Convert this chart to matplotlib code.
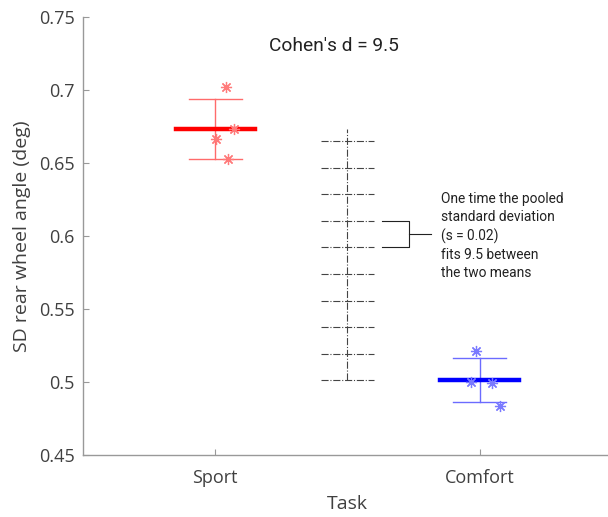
import matplotlib
matplotlib.use('Agg')
import matplotlib.pyplot as plt
import numpy as np

plt.rcParams['font.family'] = ['Open Sans', 'DejaVu Sans']

# ------------------------------------------------------------------
#  Data
# ------------------------------------------------------------------
tasks = ['Sport', 'Comfort']
task_pos = [1, 2]

means = [0.6733, 0.5012]
sds = [0.0208, 0.0152]

sport_x = [1.040, 1.070, 1.004, 1.049]
sport_y = [0.7018, 0.6733, 0.6662, 0.6527]
comfort_x = [1.987, 1.966, 2.046, 2.076]
comfort_y = [0.5210, 0.5002, 0.4991, 0.4838]

pooled_sd = 0.0182
cohens_d = 9.5
ladder_x = 1.5

yticks = [0.45, 0.5, 0.55, 0.6, 0.65, 0.7, 0.75]
ytick_labels = ['0.45', '0.5', '0.55', '0.6', '0.65', '0.7', '0.75']

MEAN_COLORS = ['#ff0000', '#0000ff']
LIGHT_COLORS = ['#ff6b6b', '#6b6bff']
MARKER_COLORS = ['#ff7a7a', '#7a7aff']
ASTERISK = (8, 2, 0)  # matlab-style '*'

# ------------------------------------------------------------------
#  Figure
# ------------------------------------------------------------------
fig = plt.figure(figsize=(6.08, 5.17), dpi=100)
ax = fig.add_axes([0.1365, 0.1199, 0.870, 0.8472])

for i, (x, m, s) in enumerate(zip(task_pos, means, sds)):
    ax.plot([x, x], [m - s, m + s], color=LIGHT_COLORS[i], lw=1.0, zorder=2)
    for yy in (m - s, m + s):
        ax.plot([x - 0.1, x + 0.1], [yy, yy], color=LIGHT_COLORS[i],
                lw=1.0, zorder=2)
    ax.plot([x - 0.15, x + 0.15], [m, m], color=MEAN_COLORS[i], lw=3.2,
            zorder=3)

ax.plot(sport_x, sport_y, ls='none', marker=ASTERISK, ms=8, mew=0.9,
        color=MARKER_COLORS[0], zorder=4)
ax.plot(comfort_x, comfort_y, ls='none', marker=ASTERISK, ms=8, mew=0.9,
        color=MARKER_COLORS[1], zorder=4)

# ladder of pooled standard deviations between the two means
steps = [means[1] + k * pooled_sd for k in range(int(cohens_d) + 1)]
ax.plot([ladder_x, ladder_x], [means[1], means[0]], color='#444444',
        lw=0.8, ls='-.', zorder=1)
for yy in steps:
    ax.plot([ladder_x - 0.1, ladder_x + 0.1], [yy, yy], color='#444444',
            lw=0.8, ls='-.', zorder=1)

# bracket around one step
y_lo, y_hi = steps[5], steps[6]
ax.plot([1.631, 1.731, 1.731, 1.631], [y_hi, y_hi, y_lo, y_lo],
        color='#222222', lw=0.8)
ax.plot([1.731, 1.815], [(y_lo + y_hi) / 2] * 2, color='#222222', lw=0.8)
ax.text(1.855, (y_lo + y_hi) / 2 - 0.0012,
        'One time the pooled\nstandard deviation\n(s = 0.02)\n'
        'fits 9.5 between\nthe two means',
        fontsize=9.9, va='center', ha='left', color='#222222',
        linespacing=1.38, family=['Roboto', 'DejaVu Sans'])

ax.text(1.448, 0.7303, "Cohen's d = 9.5", fontsize=13.8, ha='center',
        va='center', color='#222222', family=['Roboto', 'DejaVu Sans'])

ax.set_xlim(0.5, 2.5)
ax.set_ylim(0.45, 0.75)
ax.set_xticks(task_pos)
ax.set_xticklabels(tasks)
ax.set_yticks(yticks)
ax.set_yticklabels(ytick_labels)
ax.tick_params(direction='in', length=4, width=0.8, colors='#999999',
               labelcolor='#404040', labelsize=13, pad=6)
ax.tick_params(axis='x', pad=10)
for side in ('top', 'right'):
    ax.spines[side].set_visible(False)
for side in ('left', 'bottom'):
    ax.spines[side].set_color('#999999')
    ax.spines[side].set_linewidth(1.0)

ax.set_xlabel('Task', fontsize=14, color='#404040', labelpad=6)
ax.set_ylabel('SD rear wheel angle (deg)', fontsize=14, color='#404040',
              labelpad=6)

fig.savefig('out.png', dpi=100)
